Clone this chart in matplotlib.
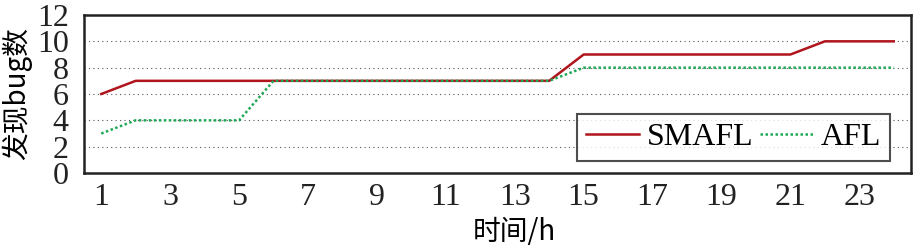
import matplotlib
matplotlib.use("Agg")
import matplotlib.pyplot as plt
import numpy as np

hours = list(range(1, 25))
smafl = [6, 7, 7, 7, 7, 7, 7, 7, 7, 7, 7, 7, 7, 7, 9, 9, 9, 9, 9, 9, 9, 10, 10, 10]
afl = [3, 4, 4, 4, 4, 7, 7, 7, 7, 7, 7, 7, 7, 7, 8, 8, 8, 8, 8, 8, 8, 8, 8, 8]
xticks = list(range(1, 25, 2))
yticks = [0, 2, 4, 6, 8, 10, 12]

plt.rcParams['font.family'] = ['Liberation Serif', 'Noto Sans CJK SC']

fig = plt.figure(figsize=(9.17, 2.5), dpi=100)
ax = fig.add_axes([84/917, 1-173/250, (911-84)/917, (173-15)/250])

ax.plot(hours, smafl, color='#B0141C', lw=1.8, label='SMAFL', zorder=3)
ax.plot(hours, afl, color='#1FA855', lw=1.8, ls=(0, (1, 1)), label='AFL', zorder=3)

ax.set_xlim(0.5, 24.5)
ax.set_ylim(0, 12)
ax.set_xticks(xticks)
ax.set_yticks(yticks)
ax.tick_params(axis='both', length=0, labelsize=23, colors='#222222')
ax.tick_params(axis='x', pad=7)
ax.tick_params(axis='y', pad=11)
for y in yticks[1:-1]:
    ax.axhline(y, color='#555555', lw=0.8, ls=(0, (1, 3)), zorder=1)
for s in ax.spines.values():
    s.set_linewidth(1.8)
    s.set_color('#222222')

ax.set_ylabel('发现bug数', fontsize=20, family=['Noto Sans CJK SC', 'Liberation Serif'])
ax.yaxis.set_label_coords(-0.063, 0.5)
ax.set_xlabel('时间/h', fontsize=20, family=['Noto Sans CJK SC', 'Liberation Serif'])
ax.xaxis.set_label_coords(0.52, -0.28)

leg = ax.legend(loc='lower right', ncol=2, fontsize=23, frameon=True, fancybox=False,
                edgecolor='#222222', borderpad=0.28, handlelength=1.65, columnspacing=0.2,
                handletextpad=0.25, borderaxespad=0, bbox_to_anchor=(0.9745, 0.075))
leg.get_frame().set_linewidth(1.5)

fig.savefig('out.png', dpi=100)
